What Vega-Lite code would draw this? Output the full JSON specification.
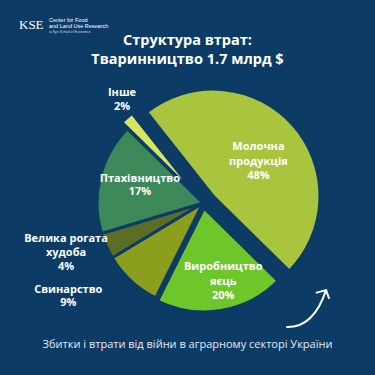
{
  "$schema": "https://vega.github.io/schema/vega-lite/v6.json",
  "width": 375,
  "height": 375,
  "padding": 0,
  "autosize": {"type": "none"},
  "background": "#0c3b66",
  "config": {"view": {"stroke": null}, "text": {"font": "Open Sans", "lineBreak": "\n"}},
  "title": {
    "text": ["Структура втрат:", "Тваринництво 1.7 млрд $"],
    "orient": "top",
    "anchor": "middle",
    "offset": -68,
    "font": "Open Sans",
    "fontSize": 14.5,
    "fontWeight": "bold",
    "color": "white",
    "lineHeight": 19
  },
  "data": {
    "values": [
      {"cat": "Молочна продукція", "label": "Молочна\nпродукція\n48%", "share": 48, "order": 1},
      {"cat": "Виробництво яєць", "label": "Виробництво\nяєць\n20%", "share": 20, "order": 2},
      {"cat": "Свинарство", "label": "Свинарство\n9%", "share": 9, "order": 3},
      {"cat": "Велика рогата худоба", "label": "Велика рогата\nхудоба\n4%", "share": 4, "order": 4},
      {"cat": "Птахівництво", "label": "Птахівництво\n17%", "share": 17, "order": 5},
      {"cat": "Інше", "label": "Інше\n2%", "share": 2, "order": 6}
    ]
  },
  "layer": [
    {
      "encoding": {
        "theta": {"field": "share", "type": "quantitative", "stack": true, "scale": {"range": [-0.6685, 5.6147]}},
        "order": {"field": "order", "type": "quantitative"}
      },
      "layer": [
        {
          "mark": {"type": "arc", "x": 203, "y": 203, "radius": 106, "stroke": "#0c3b66", "strokeWidth": 3},
          "encoding": {
            "color": {"field": "cat", "type": "nominal", "legend": null,
              "scale": {"domain": ["Молочна продукція", "Виробництво яєць", "Свинарство", "Велика рогата худоба", "Птахівництво", "Інше"],
                        "range": ["#a9c43d", "#6ec62b", "#8c9e1e", "#5c6e25", "#3e895a", "#d8e65e"]}},
            "opacity": {"condition": {"test": "datum.order >= 3 && datum.order <= 5", "value": 1}, "value": 0}
          }
        },
        {
          "mark": {"type": "arc", "x": 213, "y": 196, "radius": 107, "stroke": "#0c3b66", "strokeWidth": 3},
          "encoding": {
            "color": {"field": "cat", "type": "nominal", "legend": null},
            "opacity": {"condition": {"test": "datum.order == 1", "value": 1}, "value": 0}
          }
        },
        {
          "mark": {"type": "arc", "x": 204, "y": 208, "radius": 104, "stroke": "#0c3b66", "strokeWidth": 3},
          "encoding": {
            "color": {"field": "cat", "type": "nominal", "legend": null},
            "opacity": {"condition": {"test": "datum.order == 2", "value": 1}, "value": 0}
          }
        },
        {
          "mark": {"type": "arc", "x": 199, "y": 198, "radius": 108, "stroke": "#0c3b66", "strokeWidth": 3},
          "encoding": {
            "color": {"field": "cat", "type": "nominal", "legend": null},
            "opacity": {"condition": {"test": "datum.order == 6", "value": 1}, "value": 0}
          }
        },
        {
          "mark": {"type": "text", "x": 213, "y": 196, "radius": 57, "dx": 3, "dy": -10.5, "fontSize": 11, "fontWeight": "bold", "fill": "white", "lineHeight": 14.5},
          "encoding": {"text": {"condition": {"test": "datum.order == 1", "field": "label"}, "value": ""}}
        },
        {
          "mark": {"type": "text", "x": 204, "y": 208, "radius": 74, "dx": 7, "dy": -13.5, "fontSize": 11, "fontWeight": "bold", "fill": "white", "lineHeight": 14.5},
          "encoding": {"text": {"condition": {"test": "datum.order == 2", "field": "label"}, "value": ""}}
        },
        {
          "mark": {"type": "text", "x": 203, "y": 203, "radius": 150, "dx": -33, "dy": -23.5, "fontSize": 11, "fontWeight": "bold", "fill": "white", "lineHeight": 13.5},
          "encoding": {"text": {"condition": {"test": "datum.order == 3", "field": "label"}, "value": ""}}
        },
        {
          "mark": {"type": "text", "x": 203, "y": 203, "radius": 146, "dx": -3.5, "dy": -23, "fontSize": 11, "fontWeight": "bold", "fill": "white", "lineHeight": 14},
          "encoding": {"text": {"condition": {"test": "datum.order == 4", "field": "label"}, "value": ""}}
        },
        {
          "mark": {"type": "text", "x": 203, "y": 203, "radius": 65, "dx": 0, "dy": -8.5, "fontSize": 11, "fontWeight": "bold", "fill": "white", "lineHeight": 13.5},
          "encoding": {"text": {"condition": {"test": "datum.order == 5", "field": "label"}, "value": ""}}
        },
        {
          "mark": {"type": "text", "x": 199, "y": 198, "radius": 125, "dx": 6.5, "dy": -12, "fontSize": 11, "fontWeight": "bold", "fill": "white", "lineHeight": 14},
          "encoding": {"text": {"condition": {"test": "datum.order == 6", "field": "label"}, "value": ""}}
        }
      ]
    },
    {
      "data": {"values": [{}]},
      "mark": {"type": "text", "text": "Збитки і втрати від війни в аграрному секторі України", "x": 187.5, "y": 345, "fontSize": 11, "fill": "#e4ebf2", "align": "center", "baseline": "middle"}
    },
    {
      "data": {"values": [{}]},
      "mark": {"type": "text", "text": "KSE", "x": 19, "y": 25, "font": "Liberation Serif", "fontSize": 13, "fill": "white", "align": "left", "baseline": "middle"}
    },
    {
      "data": {"values": [{}]},
      "mark": {"type": "rule", "x": 45, "y": 17, "y2": 33, "stroke": "white", "strokeWidth": 0.7},
      "encoding": {}
    },
    {
      "data": {"values": [{}]},
      "mark": {"type": "text", "text": "Center for Food", "x": 49, "y": 20, "fontSize": 5.5, "fill": "white", "align": "left", "baseline": "middle", "font": "Liberation Sans"}
    },
    {
      "data": {"values": [{}]},
      "mark": {"type": "text", "text": "and Land Use Research", "x": 49, "y": 26, "fontSize": 5.5, "fill": "white", "align": "left", "baseline": "middle", "font": "Liberation Sans"}
    },
    {
      "data": {"values": [{}]},
      "mark": {"type": "text", "text": "at Kyiv School of Economics", "x": 49, "y": 31.5, "fontSize": 3.3, "fill": "#d0dae4", "align": "left", "baseline": "middle", "font": "Liberation Sans"}
    },
    {
      "data": {"values": [{}]},
      "mark": {"type": "point", "x": 308, "y": 309, "shape": "M -1 0.86 Q 0.27 0.88 0.86 -0.9 M 0.41 -0.78 L 0.86 -0.9 L 1 -0.52", "size": 1764, "filled": false, "stroke": "white", "strokeWidth": 2, "strokeCap": "round", "opacity": 1}
    }
  ]
}
